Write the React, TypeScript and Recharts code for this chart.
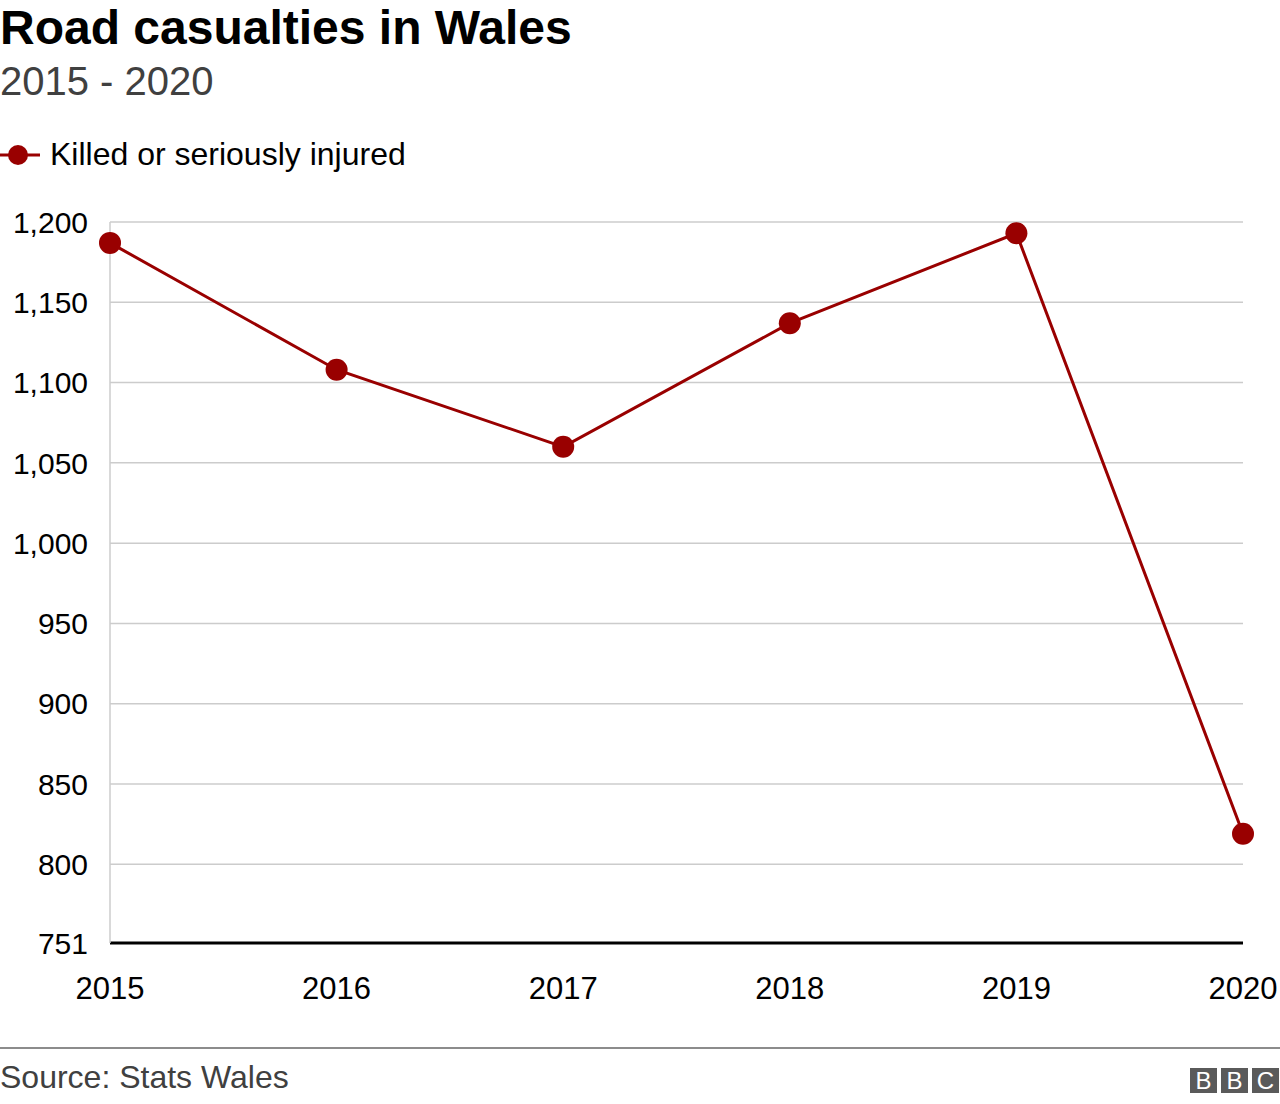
import { CartesianGrid, Line, LineChart, XAxis, YAxis } from "recharts";

const years = ["2015", "2016", "2017", "2018", "2019", "2020"];
const ksi = [1187, 1108, 1060, 1137, 1193, 819];
const yTicks = [751, 800, 850, 900, 950, 1000, 1050, 1100, 1150, 1200];

const data = years.map((year, i) => ({ year, ksi: ksi[i] }));

const font = "'Liberation Sans', Arial, Helvetica, sans-serif";
const red = "#990000";
const fmt = new Intl.NumberFormat("en-GB");

function BbcLogo() {
  return (
    <div style={{ position: "absolute", left: 1190, top: 1068, display: "flex", gap: 4 }}>
      {["B", "B", "C"].map((letter, i) => (
        <div
          key={i}
          style={{
            width: 27,
            height: 25,
            background: "#5a5a5a",
            color: "#fff",
            fontWeight: 400,
            fontSize: 24,
            lineHeight: "26px",
            textAlign: "center",
          }}
        >
          {letter}
        </div>
      ))}
    </div>
  );
}

export default function App() {
  return (
    <div
      style={{
        position: "absolute",
        left: 0,
        top: 0,
        width: 1280,
        height: 1104,
        background: "#fff",
        fontFamily: font,
        overflow: "hidden",
      }}
    >
      <div style={{ position: "absolute", left: 0, top: 1, fontSize: 48, fontWeight: 700, lineHeight: "54px", color: "#000" }}>
        Road casualties in Wales
      </div>
      <div style={{ position: "absolute", left: 0, top: 58, fontSize: 40, lineHeight: "46px", color: "#404040" }}>
        2015 - 2020
      </div>

      {/* legend */}
      <svg style={{ position: "absolute", left: 0, top: 140 }} width={48} height={30}>
        <line x1={0} x2={40} y1={15} y2={15} stroke={red} strokeWidth={3} />
        <circle cx={18} cy={15} r={10} fill={red} />
      </svg>
      <div style={{ position: "absolute", left: 50, top: 135, fontSize: 32, lineHeight: "38px", color: "#000" }}>
        Killed or seriously injured
      </div>

      <div style={{ position: "absolute", left: 0, top: 0 }}>
        <LineChart width={1280} height={1104} data={data} margin={{ top: 222, right: 37, bottom: 131, left: 0 }}>
          <CartesianGrid vertical={false} stroke="#cccccc" strokeWidth={1.5} />
          <XAxis
            dataKey="year"
            height={30}
            tickLine={false}
            axisLine={{ stroke: "#000", strokeWidth: 3 }}
            tick={{ fontSize: 31, fill: "#000", fontFamily: font }}
            tickMargin={28}
            interval={0}
          />
          <YAxis
            width={110}
            domain={[751, 1200]}
            ticks={yTicks}
            tickFormatter={(v) => fmt.format(v)}
            tickLine={false}
            axisLine={{ stroke: "#cccccc", strokeWidth: 1.5 }}
            tick={{ fontSize: 30, fill: "#000", fontFamily: font }}
            tickMargin={16}
            allowDataOverflow
          />
          <Line
            dataKey="ksi"
            stroke={red}
            strokeWidth={3}
            dot={{ r: 11, fill: red, stroke: "none" }}
            activeDot={false}
            isAnimationActive={false}
          />
        </LineChart>
      </div>

      <div style={{ position: "absolute", left: 0, top: 1047, width: 1280, height: 2, background: "#8c8c8c" }} />
      <div style={{ position: "absolute", left: 0, top: 1059, fontSize: 32, lineHeight: "36px", color: "#404040" }}>
        Source: Stats Wales
      </div>
      <BbcLogo />
    </div>
  );
}
